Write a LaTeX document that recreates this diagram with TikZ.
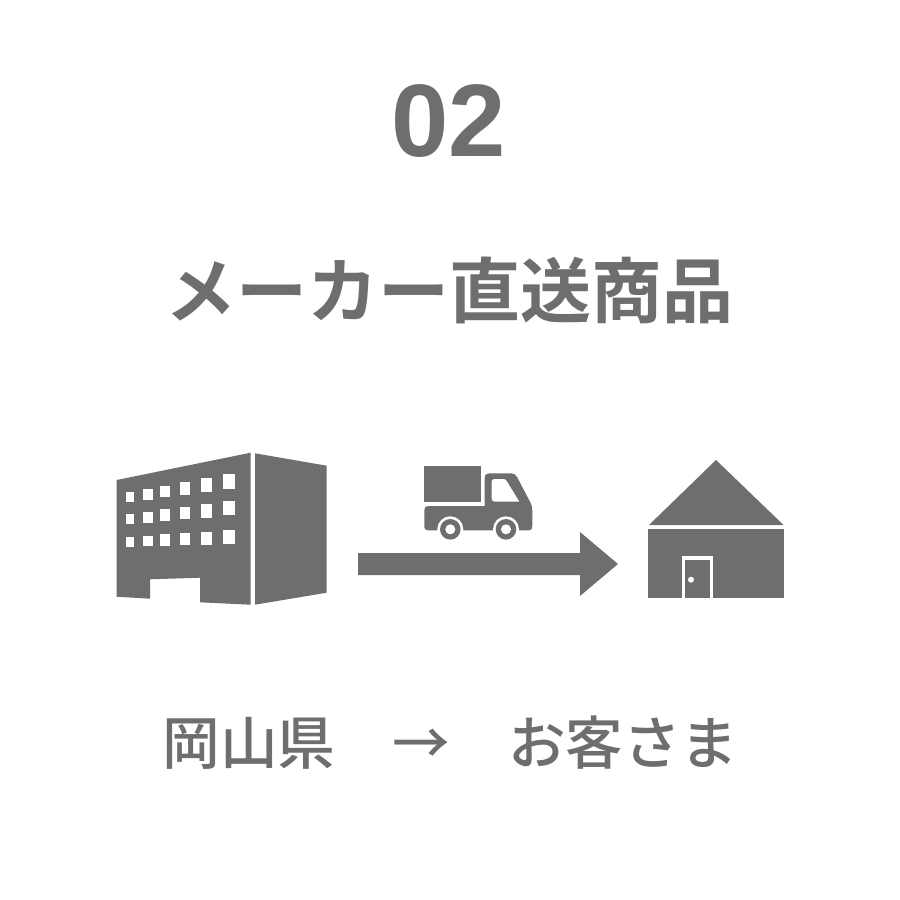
\documentclass[tikz,border=0pt]{standalone}
\usepackage{fontspec}
\setmainfont{Liberation Sans}
\newfontfamily\cjk{Noto Sans CJK JP Medium}
\newfontfamily\cjkb{Noto Sans CJK JP Bold}
\definecolor{ink}{HTML}{6E6E6E}
\tikzset{
  fillink/.style={fill=ink,draw=none},
  hole/.style={fill=white,draw=none},
  label/.style={text=ink,inner sep=0pt,anchor=center}
}
\begin{document}
\begin{tikzpicture}[x=1pt,y=-1pt]
\useasboundingbox (0,0) rectangle (900,900);
\fill[white] (0,0) rectangle (900,900);
\node[label,font=\bfseries\fontsize{103}{103}\selectfont] (num) at (449,121) {02};
\node[label,font=\cjkb\fontsize{71}{71}\selectfont] (title) at (449,290) {メーカー直送商品};
\node[label,font=\cjk\fontsize{57.6}{57.6}\selectfont] (route) at (450.5,743) {岡山県　→　お客さま};
% building
\fill[fillink] (116.7,480) -- (250.7,452.7) -- (250.7,604.7) -- (200,602.3) -- (200,577.7) -- (150,579.3) -- (150,598.7) -- (116.7,596.7) -- cycle;
\fill[fillink] (255,453.3) -- (326.7,465.7) -- (326.7,592.7) -- (255,604.7) -- cycle;
\foreach \xa/\xb/\ta/\tb/\tc/\ba/\bb/\bc in {
 125.7/134.3/492.3/514/536.7/502.3/524/546.7,
 143/152.7/489/512/535.7/500/522.7/546,
 160.3/170.3/485.7/509.3/534.3/497.3/521/545.7,
 179.7/190.3/482/506.7/533/494.7/519.3/545.3,
 200.7/212/478.3/503.7/531.7/492/517.7/544.7,
 223/235.3/474.3/500.7/530.3/489/515/544}{
  \fill[hole] (\xa,\ta) rectangle (\xb,\ba);
  \fill[hole] (\xa,\tb) rectangle (\xb,\bb);
  \fill[hole] (\xa,\tc) rectangle (\xb,\bc);
}
% truck
\fill[fillink] (424.3,466) rectangle (480.7,502.3);
\fill[fillink] (424.3,510) .. controls (424.3,507) and (426,506) .. (428.5,506) -- (484.7,506) -- (484.7,479) .. controls (484.7,475) and (486,473.3) .. (489,473.3) -- (511,473.3) .. controls (514,473.3) and (515.5,474.5) .. (517,477) -- (530,501.7) .. controls (531.7,505) and (532.3,507) .. (532.3,510) -- (532.3,526.5) .. controls (532.3,529) and (531,530.3) .. (529,530.3) -- (428,530.3) .. controls (425.5,530.3) and (424.3,529) .. (424.3,527) -- cycle;
\fill[hole] (491.7,482) .. controls (491.7,480) and (492.5,479) .. (494.5,479) -- (503,479) .. controls (505,479) and (506,479.7) .. (507,481.5) -- (519.3,501.7) -- (495,501.7) .. controls (492.7,501.7) and (491.7,500.5) .. (491.7,498.5) -- cycle;
\foreach \cx in {450.3,506}{
  \fill[hole] (\cx,529.3) circle (13);
  \fill[fillink] (\cx,529.3) circle (10.3);
  \fill[hole] (\cx,529.3) circle (5);
}
% arrow
\fill[fillink] (358,553) -- (580,553) -- (580,532) -- (618,564) -- (580,596) -- (580,575) -- (358,575) -- cycle;
% house
\fill[fillink] (716,460) -- (783.5,525) -- (649,525) -- cycle;
\fill[fillink] (648.3,529) rectangle (783.5,597.5);
\fill[hole] (681.7,556) rectangle (713,597.5);
\fill[fillink] (684.7,559.5) rectangle (710,597.5);
\fill[hole] (691,579.7) circle (3);
\end{tikzpicture}
\end{document}
